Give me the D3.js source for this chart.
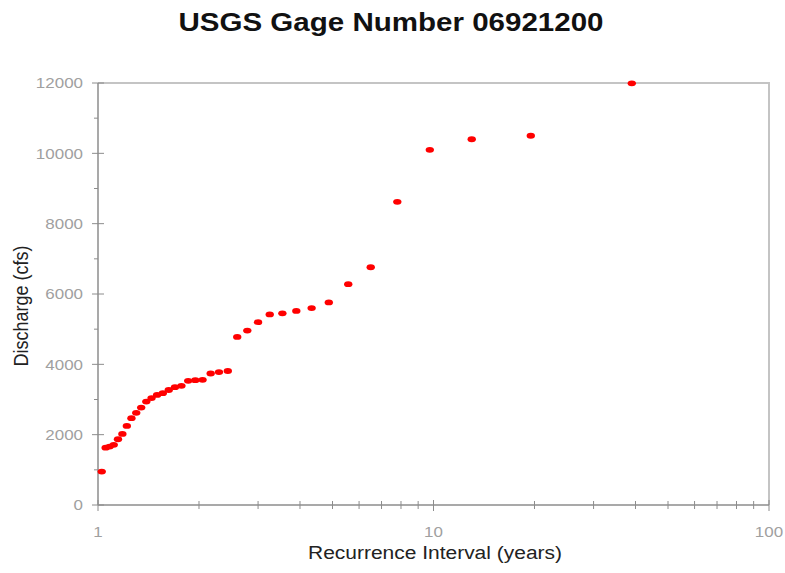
<!DOCTYPE html>
<html>
<head>
<meta charset="utf-8">
<script src="https://cdn.jsdelivr.net/npm/d3@7"></script>
<style>
  body { margin: 0; background: #fff; }
  svg { display: block; font-family: "Liberation Sans", Arial, sans-serif; }
</style>
</head>
<body>
<svg width="785" height="573"></svg>
<script>
// recurrence interval (years) and peak discharge (cfs)
const recurrence = [1.026, 1.054, 1.083, 1.114, 1.147, 1.182, 1.219, 1.258, 1.3, 1.345,
  1.393, 1.444, 1.5, 1.56, 1.625, 1.696, 1.773, 1.857, 1.95, 2.05,
  2.167, 2.294, 2.4375, 2.6, 2.786, 3.0, 3.25, 3.545, 3.9, 4.333,
  4.875, 5.57, 6.5, 7.8, 9.75, 13, 19.5, 39];
const discharge = [950, 1630, 1660, 1710, 1870, 2020, 2250, 2470, 2620, 2770,
  2940, 3040, 3130, 3180, 3270, 3350, 3390, 3530, 3550, 3560,
  3740, 3780, 3810, 4780, 4960, 5200, 5420, 5450, 5520, 5600,
  5760, 6280, 6760, 8620, 10100, 10400, 10500, 11990];
const yTicks = [0, 2000, 4000, 6000, 8000, 10000, 12000];
const xLabels = [1, 10, 100];

const svg = d3.select("svg");
const margin = { top: 83, right: 16, bottom: 68, left: 98 };
const width = 785 - margin.left - margin.right;
const height = 573 - margin.top - margin.bottom;

const g = svg.append("g").attr("transform", `translate(${margin.left},${margin.top})`);

const x = d3.scaleLog().domain([1, 100]).range([0, width]);
const y = d3.scaleLinear().domain([0, 12000]).range([height, 0]);

// the original picture is a bit wider than tall, text is stretched sideways
const stretch = 1.13;

// top and right frame
g.append("path")
  .attr("d", `M0,0H${width}V${height}`)
  .attr("fill", "none")
  .attr("stroke", "#c4c4c4")
  .attr("stroke-width", 2);

// y axis: major ticks crossing, minor ticks outside
const yAxis = g.append("g");
yAxis.append("line").attr("x1", 0).attr("x2", 0).attr("y1", 0).attr("y2", height)
  .attr("stroke", "#8c8c8c").attr("stroke-width", 1.5);
d3.range(0, 12001, 1000).forEach(v => {
  const major = v % 2000 === 0;
  yAxis.append("line")
    .attr("x1", major ? -6 : -4).attr("x2", major ? 6 : 0)
    .attr("y1", y(v)).attr("y2", y(v))
    .attr("stroke", "#8c8c8c");
});
yAxis.selectAll(".ylab").data(yTicks).join("text")
  .attr("transform", d => `translate(-15,${y(d)}) scale(${stretch},1)`)
  .attr("dy", "0.35em")
  .attr("text-anchor", "end")
  .attr("font-size", 15).attr("fill", "#a0a0a0")
  .text(d => d);

// x axis: log ticks
const xAxis = g.append("g").attr("transform", `translate(0,${height})`);
xAxis.append("line").attr("x1", 0).attr("x2", width)
  .attr("stroke", "#8c8c8c").attr("stroke-width", 1.5);
const xTickVals = [];
[1, 10].forEach(b => { for (let k = 1; k <= 10; k++) xTickVals.push(b * k); });
Array.from(new Set(xTickVals)).forEach(v => {
  const major = xLabels.includes(v);
  xAxis.append("line")
    .attr("x1", x(v)).attr("x2", x(v))
    .attr("y1", major ? -5 : -4).attr("y2", major ? 6 : 4)
    .attr("stroke", "#8c8c8c");
});
xAxis.selectAll(".xlab").data(xLabels).join("text")
  .attr("transform", d => `translate(${x(d)},32) scale(${stretch},1)`)
  .attr("text-anchor", "middle")
  .attr("font-size", 15).attr("fill", "#a0a0a0")
  .text(d => d);

// points
g.selectAll(".dot")
  .data(recurrence.map((r, i) => ({ r, q: discharge[i] })))
  .join("ellipse")
  .attr("class", "dot")
  .attr("cx", d => x(d.r))
  .attr("cy", d => y(d.q))
  .attr("rx", 4.2)
  .attr("ry", 2.9)
  .attr("fill", "#ff0000");

// titles
svg.append("text")
  .attr("x", 391).attr("y", 31)
  .attr("text-anchor", "middle")
  .attr("font-size", 25).attr("font-weight", "bold").attr("fill", "#111")
  .attr("textLength", 425).attr("lengthAdjust", "spacingAndGlyphs")
  .text("USGS Gage Number 06921200");

svg.append("text")
  .attr("x", 435).attr("y", 559)
  .attr("text-anchor", "middle")
  .attr("font-size", 18).attr("fill", "#222")
  .attr("textLength", 254).attr("lengthAdjust", "spacingAndGlyphs")
  .text("Recurrence Interval (years)");

svg.append("text")
  .attr("transform", `translate(28,306) rotate(-90) scale(1,${stretch})`)
  .attr("text-anchor", "middle")
  .attr("font-size", 18).attr("fill", "#222")
  .text("Discharge (cfs)");
</script>
</body>
</html>
